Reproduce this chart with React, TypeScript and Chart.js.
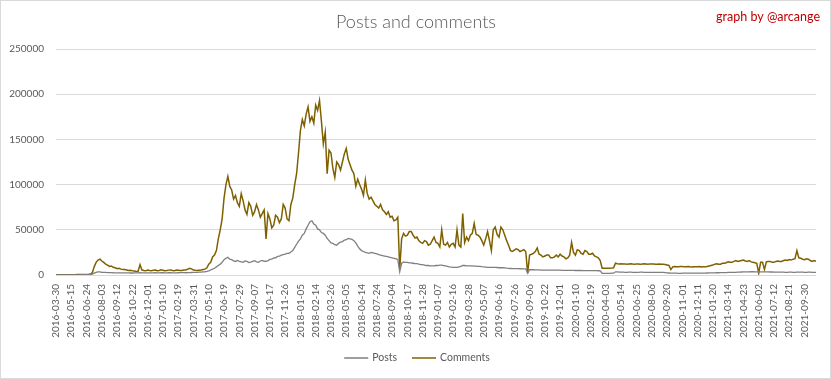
import React, { useEffect, useRef } from "react";
import { Chart, registerables } from "chart.js";

Chart.register(...registerables);

const TITLE = "Posts and comments";
const CREDIT = "graph by @arcange";
const SERIES_NAMES = ["Posts", "Comments"];
const SERIES_COLORS = ["#7F7F7F", "#7F6000"];

// labelled categories (one every 40 days of data)
const tickLabels = [
  "2016-03-30", "2016-05-15", "2016-06-24", "2016-08-03", "2016-09-12", "2016-10-22", "2016-12-01",
  "2017-01-10", "2017-02-19", "2017-03-31", "2017-05-10", "2017-06-19", "2017-07-29", "2017-09-07",
  "2017-10-17", "2017-11-26", "2018-01-05", "2018-02-14", "2018-03-26", "2018-05-05", "2018-06-14",
  "2018-07-24", "2018-09-04", "2018-10-17", "2018-11-28", "2019-01-07", "2019-02-16", "2019-03-28",
  "2019-05-07", "2019-06-16", "2019-07-26", "2019-09-06", "2019-10-22", "2019-12-01", "2020-01-10",
  "2020-02-19", "2020-04-03", "2020-05-14", "2020-06-25", "2020-08-06", "2020-09-20", "2020-11-01",
  "2020-12-11", "2021-01-20", "2021-03-14", "2021-04-23", "2021-06-02", "2021-07-12", "2021-08-21",
  "2021-09-30",
];
const TICK_EVERY = 40; // categories between labels
const STEP = 5; // categories between samples below
const TOTAL_CATEGORIES = 1990;

const posts = [
  100, 110, 120, 130, 150, 150, 150, 160, 180, 190,
  200, 210, 220, 230, 250, 280, 300, 350, 400, 1000,
  2000, 3000, 3500, 3400, 3000, 2900, 2800, 2700, 2600, 2600,
  2500, 2450, 2400, 2350, 2300, 2300, 2300, 2250, 2300, 2200,
  2200, 2250, 2300, 2400, 2500, 2400, 2400, 2450, 2300, 2350,
  2400, 2450, 2500, 2400, 2400, 2500, 2500, 2450, 2400, 2500,
  2500, 2450, 2400, 2450, 2500, 2550, 2600, 2550, 2500, 2600,
  2700, 2750, 2800, 2900, 3000, 3100, 3200, 3400, 3600, 4000,
  4500, 5500, 6500, 7500, 9000, 10500, 12000, 14000, 17000, 18500,
  19500, 17500, 17000, 15500, 15000, 16000, 15000, 14500, 14000, 15500,
  15000, 13800, 14200, 15000, 15800, 14500, 14000, 15500, 16200, 15000,
  15200, 16000, 17200, 17500, 18800, 19000, 20500, 21000, 22000, 22500,
  23000, 24000, 24000, 25500, 27000, 30500, 34000, 37500, 40000, 44000,
  46000, 51000, 55000, 59000, 60000, 56500, 55000, 51000, 50000, 47000,
  46000, 44000, 40500, 38000, 35500, 35000, 33500, 33000, 35000, 36500,
  37000, 38500, 39000, 40500, 40000, 39500, 38000, 35500, 32000, 29000,
  27000, 26000, 25000, 24500, 24000, 25000, 24500, 24000, 23500, 22500,
  22000, 21500, 21000, 20500, 20000, 19500, 19000, 18500, 18000, 17000,
  3500, 13000, 14500, 14000, 14000, 13500, 13500, 13000, 12500, 12500,
  12000, 11500, 11500, 11000, 10500, 10500, 10000, 10000, 10000, 10500,
  10500, 11000, 11000, 10500, 10000, 9500, 9000, 8800, 8500, 8500,
  8500, 9000, 9500, 10700, 10500, 10000, 10000, 10000, 10000, 9900,
  9800, 9600, 9500, 9200, 9000, 8800, 8500, 8500, 8500, 8500,
  8500, 8300, 8000, 8000, 8000, 7800, 7500, 7300, 7200, 7100,
  7000, 7000, 7000, 6900, 6800, 6800, 6800, 2000, 5800, 5800,
  5800, 5700, 5600, 5600, 5500, 5500, 5500, 5400, 5400, 5400,
  5400, 5300, 5300, 5300, 5300, 5200, 5200, 5200, 5200, 5100,
  5100, 5100, 5000, 5000, 5000, 5000, 4900, 4900, 4900, 4900,
  4800, 4800, 4800, 4800, 4700, 4500, 1900, 1900, 1900, 1900,
  1900, 2000, 2000, 3500, 3500, 3200, 3200, 3100, 3000, 3000,
  3100, 3100, 3000, 3000, 3000, 3000, 3100, 3100, 3000, 3000,
  3000, 3000, 2900, 2900, 3000, 3000, 2900, 2900, 2800, 2600,
  2400, 2200, 2000, 2000, 2000, 2000, 1900, 1900, 2000, 2000,
  2000, 2000, 2100, 2100, 2000, 2000, 2100, 2100, 2000, 2000,
  2100, 2200, 2300, 2300, 2400, 2400, 2500, 2500, 2600, 2600,
  2600, 2700, 2800, 2800, 2900, 2900, 3000, 3100, 3200, 3300,
  3400, 3400, 3500, 3500, 3600, 3600, 3500, 3500, 3400, 3400,
  3500, 3500, 3400, 3400, 3300, 3300, 3200, 3200, 3200, 3100,
  3100, 3100, 3000, 3000, 3100, 3100, 3000, 3000, 3200, 3200,
  3100, 3100, 3000, 3000, 3100, 3100, 3000, 3000, 3000,
];

const comments = [
  200, 220, 250, 270, 300, 300, 300, 320, 350, 380,
  400, 420, 450, 480, 500, 550, 600, 700, 900, 2500,
  9000, 14000, 16500, 17500, 15500, 14000, 12000, 11000, 9500, 10000,
  8500, 8000, 7000, 7500, 6500, 6200, 6000, 5500, 5000, 5200,
  4800, 4500, 4000, 4200, 11500, 5500, 5000, 4600, 5500, 5000,
  4800, 5200, 5600, 4700, 5000, 5700, 5300, 4800, 5000, 5400,
  5600, 5000, 4800, 5500, 5200, 4900, 5000, 5600, 5500, 6500,
  7500, 6800, 5500, 5200, 5000, 5300, 5500, 6000, 6500, 8000,
  12000, 14000, 20000, 22000, 27000, 40000, 50000, 62000, 85000, 100000,
  109000, 98000, 94000, 84000, 88000, 80000, 76000, 90000, 82000, 72000,
  67000, 80000, 76000, 66000, 70000, 78000, 72000, 64000, 68000, 72000,
  40000, 68000, 62000, 52000, 55000, 66000, 64000, 58000, 62000, 78000,
  74000, 62000, 60000, 78000, 85000, 100000, 112000, 135000, 160000, 172000,
  165000, 178000, 186000, 170000, 175000, 168000, 188000, 182000, 193000, 170000,
  145000, 158000, 112000, 138000, 135000, 118000, 108000, 125000, 122000, 116000,
  125000, 134000, 140000, 128000, 122000, 116000, 112000, 98000, 106000, 100000,
  95000, 88000, 105000, 90000, 84000, 86000, 82000, 78000, 76000, 74000,
  78000, 72000, 70000, 67000, 70000, 64000, 65000, 60000, 61000, 64000,
  6000, 40000, 46000, 43000, 44000, 48000, 48000, 44000, 41000, 42000,
  38000, 36000, 35000, 38000, 37000, 33000, 34000, 38000, 42000, 36000,
  35000, 31000, 50000, 34000, 33000, 36000, 31000, 34000, 35000, 31000,
  50000, 33000, 31000, 68000, 36000, 42000, 38000, 44000, 46000, 57000,
  45000, 44000, 42000, 38000, 33000, 40000, 48000, 38000, 27000, 50000,
  53000, 45000, 42000, 53000, 50000, 44000, 38000, 33000, 27000, 26000,
  27500, 29000, 28000, 26000, 27000, 28000, 26000, 2000, 22000, 23000,
  24000, 26000, 30000, 23000, 22000, 20000, 21000, 22000, 22000, 19000,
  19000, 20000, 22000, 20000, 23000, 21000, 20000, 18000, 19000, 22000,
  36000, 25000, 22000, 28000, 27000, 24000, 23000, 27000, 26000, 23000,
  23000, 24000, 21000, 20000, 19000, 16000, 7500, 7400, 7400, 7500,
  7400, 7600, 8000, 13000, 12500, 12200, 12400, 12100, 12300, 12000,
  12200, 12400, 12100, 12000, 12300, 12200, 12000, 12100, 12400, 12200,
  12000, 12300, 12100, 12200, 11900, 12000, 12100, 11900, 11800, 11500,
  11000, 10500, 6000, 9000, 9500, 9200, 9000, 9300, 9400, 9000,
  9200, 9300, 9000, 8800, 9100, 9200, 9000, 9300, 8800, 9000,
  9000, 9500, 10000, 10500, 11000, 12000, 12500, 12000, 12000, 13000,
  13000, 13500, 14500, 14000, 14000, 15000, 16000, 15000, 15500, 16000,
  16500, 15500, 15000, 16000, 14500, 14000, 13500, 13000, 2000, 14000,
  14000, 6000, 14500, 15000, 15000, 14000, 14000, 15000, 15500, 15000,
  15000, 16000, 16500, 16000, 17000, 16500, 17500, 18000, 27000, 19000,
  18500, 17500, 17000, 18000, 17500, 16000, 15000, 16000, 15000,
];

const yTicks = [0, 50000, 100000, 150000, 200000, 250000];

const FONT = "Lato, 'Open Sans', sans-serif";
const TEXT_COLOR = "#595959";
const GRID_COLOR = "#D9D9D9";

const toPoints = (arr: number[]) => arr.map((v, i) => ({ x: i * STEP, y: v }));

const overlayPlugin = {
  id: "overlay",
  afterDraw(chart: any) {
    const ctx = chart.ctx as CanvasRenderingContext2D;
    const w = chart.width;
    const h = chart.height;
    ctx.save();
    ctx.strokeStyle = GRID_COLOR;
    ctx.lineWidth = 1;
    ctx.strokeRect(0.5, 0.5, w - 1, h - 1);
    ctx.fillStyle = TEXT_COLOR;
    ctx.font = `300 18px ${FONT}`;
    ctx.textAlign = "center";
    ctx.textBaseline = "middle";
    ctx.fillText(TITLE, 416, 22);
    ctx.fillStyle = "#C00000";
    ctx.font = `12.5px ${FONT}`;
    ctx.textAlign = "right";
    ctx.fillText(CREDIT, 820, 17);
    ctx.font = `10.5px ${FONT}`;
    ctx.textAlign = "left";
    const lineLen = 24;
    const gap = 4;
    const itemGap = 15;
    const widths = SERIES_NAMES.map((n) => lineLen + gap + ctx.measureText(n).width);
    const total = widths.reduce((a, b) => a + b, 0) + itemGap * (widths.length - 1);
    let x = 417 - total / 2;
    const y = 358;
    SERIES_NAMES.forEach((name, i) => {
      ctx.strokeStyle = SERIES_COLORS[i];
      ctx.lineWidth = 1.5;
      ctx.beginPath();
      ctx.moveTo(x, y);
      ctx.lineTo(x + lineLen, y);
      ctx.stroke();
      ctx.fillStyle = TEXT_COLOR;
      ctx.fillText(name, x + lineLen + gap, y);
      x += widths[i] + itemGap;
    });
    ctx.restore();
  },
};

export default function App() {
  const ref = useRef<HTMLCanvasElement>(null);

  useEffect(() => {
    const canvas = ref.current;
    if (!canvas) return;
    const chart = new Chart(canvas, {
      type: "line",
      data: {
        datasets: [
          {
            label: SERIES_NAMES[0],
            data: toPoints(posts),
            borderColor: SERIES_COLORS[0],
            backgroundColor: SERIES_COLORS[0],
            borderWidth: 1.3,
            pointRadius: 0,
            tension: 0,
          },
          {
            label: SERIES_NAMES[1],
            data: toPoints(comments),
            borderColor: SERIES_COLORS[1],
            backgroundColor: SERIES_COLORS[1],
            borderWidth: 1.5,
            pointRadius: 0,
            tension: 0,
          },
        ],
      },
      options: {
        responsive: false,
        animation: false,
        devicePixelRatio: 1,
        layout: { padding: { top: 49, right: 15, left: 0, bottom: 0 } },
        plugins: {
          legend: { display: false },
          title: { display: false },
          tooltip: { enabled: false },
        },
        scales: {
          x: {
            type: "linear",
            min: 0,
            max: TOTAL_CATEGORIES,
            grid: { display: false, drawTicks: false },
            border: { display: false },
            afterBuildTicks: (scale: any) => {
              scale.ticks = tickLabels.map((_, i) => ({ value: i * TICK_EVERY }));
            },
            afterFit: (scale: any) => {
              scale.height = 104;
            },
            ticks: {
              autoSkip: false,
              maxRotation: 90,
              minRotation: 90,
              padding: 9,
              color: TEXT_COLOR,
              font: { family: FONT, size: 10 },
              callback: (v: any) => tickLabels[Math.round(Number(v) / TICK_EVERY)] ?? "",
            },
          },
          y: {
            min: 0,
            max: 250000,
            afterBuildTicks: (scale: any) => {
              scale.ticks = yTicks.map((v) => ({ value: v }));
            },
            afterFit: (scale: any) => {
              scale.width = 56;
            },
            grid: { color: GRID_COLOR, lineWidth: 1, drawTicks: false },
            border: { display: false },
            ticks: {
              padding: 12,
              color: TEXT_COLOR,
              font: { family: FONT, size: 10 },
              callback: (v: any) => String(v),
            },
          },
        },
      },
      plugins: [overlayPlugin],
    } as any);
    return () => chart.destroy();
  }, []);

  return (
    <div style={{ position: "fixed", left: 0, top: 0, width: 831, height: 379, background: "#fff" }}>
      <canvas ref={ref} width={831} height={379} style={{ display: "block" }} />
    </div>
  );
}
